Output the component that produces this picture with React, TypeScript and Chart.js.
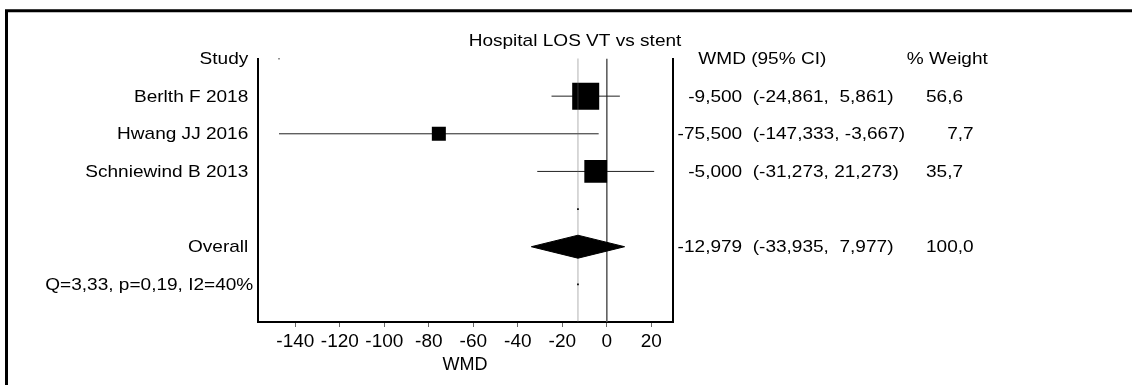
import { useEffect, useRef } from 'react';
import { Chart, registerables } from 'chart.js';

Chart.register(...registerables);

// Study-level results (weighted mean difference, 95% CI, % weight)
const STUDIES = ['Berlth F 2018', 'Hwang JJ 2016', 'Schniewind B 2013'];
const WMD = [-9.5, -75.5, -5.0];
const CI_LOW = [-24.861, -147.333, -31.273];
const CI_HIGH = [5.861, -3.667, 21.273];
const WEIGHTS = [56.6, 7.7, 35.7];

// Pooled estimate
const OVERALL_WMD = -12.979;
const OVERALL_LOW = -33.935;
const OVERALL_HIGH = 7.977;
const OVERALL_WEIGHT = 100.0;
const HETEROGENEITY = 'Q=3,33, p=0,19, I2=40%';

const TITLE = 'Hospital LOS VT vs stent';
const X_TITLE = 'WMD';
const X_TICKS = [-140, -120, -100, -80, -60, -40, -20, 0, 20];
const X_MIN = -157;
const X_MAX = 29.6;

// Row layout: 0 header, 1..n studies, n+1 gap, n+2 overall, n+3 heterogeneity
const N = STUDIES.length;
const ROW_OVERALL = N + 2;
const ROW_HET = N + 3;
const ROW_MAX = N + 4;

const FONT = '"Liberation Sans", Arial, Helvetica, sans-serif';
const TEXT_SIZE = 17;
const TEXT_STRETCH = 1.12;

const fmt3 = (v: number) => v.toFixed(3).replace('.', ',');
const fmt1 = (v: number) => v.toFixed(1).replace('.', ',');
const ciText = (lo: number, hi: number) =>
  `(${fmt3(lo)},${hi >= 0 && hi < 10 ? '  ' : ' '}${fmt3(hi)})`;
const weightText = (w: number) => (w < 10 ? '    ' : '') + fmt1(w);
// square side grows with the square root of the study weight
const squareRadius = (w: number) => (6.4 + 2.74 * Math.sqrt(w)) / Math.SQRT2;

function drawText(
  ctx: CanvasRenderingContext2D,
  s: string,
  x: number,
  y: number,
  align: CanvasTextAlign
) {
  ctx.save();
  ctx.translate(x, y);
  ctx.scale(TEXT_STRETCH, 1);
  ctx.font = `${TEXT_SIZE}px ${FONT}`;
  ctx.fillStyle = '#000';
  ctx.textAlign = align;
  ctx.textBaseline = 'middle';
  ctx.fillText(s, 0, 0);
  ctx.restore();
}

const forestText = {
  id: 'forestText',
  beforeDraw(chart: any) {
    const ctx = chart.ctx as CanvasRenderingContext2D;
    ctx.save();
    ctx.fillStyle = '#fff';
    ctx.fillRect(0, 0, chart.width, chart.height);
    ctx.strokeStyle = '#000';
    ctx.lineWidth = 3;
    ctx.beginPath();
    ctx.moveTo(6.5, chart.height);
    ctx.lineTo(6.5, 10.8);
    ctx.lineTo(chart.width, 10.8);
    ctx.stroke();
    ctx.restore();
  },
  afterDraw(chart: any) {
    const ctx = chart.ctx as CanvasRenderingContext2D;
    const y = chart.scales.y;
    const { left, right } = chart.chartArea;
    const rowY = (r: number) => y.getPixelForValue(r) + 1;
    const labelX = left - 9.2;
    const wmdX = right + 69.5;
    const ciX = right + 80;
    const wX = right + 253.3;

    drawText(ctx, TITLE, 575, 41, 'center');

    drawText(ctx, 'Study', labelX, rowY(0), 'right');
    drawText(ctx, 'WMD (95% CI)', right + 25.6, rowY(0), 'left');
    drawText(ctx, '% Weight', right + 234, rowY(0), 'left');

    STUDIES.forEach((name, i) => {
      const yy = rowY(i + 1);
      drawText(ctx, name, labelX, yy, 'right');
      drawText(ctx, fmt3(WMD[i]), wmdX, yy, 'right');
      drawText(ctx, ciText(CI_LOW[i], CI_HIGH[i]), ciX, yy, 'left');
      drawText(ctx, weightText(WEIGHTS[i]), wX, yy, 'left');
    });

    const yo = rowY(ROW_OVERALL);
    drawText(ctx, 'Overall', labelX, yo, 'right');
    drawText(ctx, fmt3(OVERALL_WMD), wmdX, yo, 'right');
    drawText(ctx, ciText(OVERALL_LOW, OVERALL_HIGH), ciX, yo, 'left');
    drawText(ctx, weightText(OVERALL_WEIGHT), wX, yo, 'left');

    drawText(ctx, HETEROGENEITY, left - 4.2, rowY(ROW_HET), 'right');
  },
};

export default function App() {
  const canvasRef = useRef<HTMLCanvasElement | null>(null);

  useEffect(() => {
    if (!canvasRef.current) return;

    const vline = (x: number) => [
      { x, y: 0 },
      { x, y: ROW_MAX },
    ];
    const diamondHalf = 0.305;

    const ciDatasets = STUDIES.map((_, i) => ({
      type: 'line' as const,
      data: [
        { x: CI_LOW[i], y: i + 1 },
        { x: CI_HIGH[i], y: i + 1 },
      ],
      borderColor: '#222',
      borderWidth: 1,
      pointRadius: 0,
      order: 8,
    }));

    const chart = new Chart(canvasRef.current, {
      type: 'scatter',
      data: {
        datasets: [
          {
            type: 'line',
            data: vline(0),
            borderColor: '#555',
            borderWidth: 1.5,
            pointRadius: 0,
            order: 10,
          },
          ...ciDatasets,
          {
            type: 'scatter',
            data: STUDIES.map((_, i) => ({ x: WMD[i], y: i + 1 })),
            pointStyle: 'rect',
            pointRadius: WEIGHTS.map(squareRadius),
            backgroundColor: '#000',
            borderColor: '#000',
            borderWidth: 0,
            order: 6,
          },
          {
            type: 'line',
            data: vline(OVERALL_WMD),
            borderColor: '#666',
            borderWidth: 1,
            borderDash: [1, 1],
            pointRadius: 0,
            order: 4,
          },
          {
            type: 'line',
            data: [
              { x: OVERALL_LOW, y: ROW_OVERALL },
              { x: OVERALL_WMD, y: ROW_OVERALL - diamondHalf },
              { x: OVERALL_HIGH, y: ROW_OVERALL },
              { x: OVERALL_WMD, y: ROW_OVERALL + diamondHalf },
              { x: OVERALL_LOW, y: ROW_OVERALL },
            ],
            borderColor: '#000',
            backgroundColor: '#000',
            borderWidth: 1,
            fill: 'shape',
            tension: 0,
            pointRadius: 0,
            order: 2,
          },
          {
            type: 'scatter',
            data: [
              { x: Math.min(...CI_LOW), y: 0 },
              { x: OVERALL_WMD, y: ROW_OVERALL - 1 },
              { x: OVERALL_WMD, y: ROW_HET },
            ],
            pointStyle: 'rect',
            pointRadius: 1.2,
            backgroundColor: '#000',
            borderWidth: 0,
            order: 1,
          },
        ],
      } as any,
      options: {
        animation: false,
        responsive: false,
        events: [],
        layout: { padding: { left: 257.5, right: 459.3, top: 58.5, bottom: 0 } },
        plugins: {
          legend: { display: false },
          title: { display: false },
          tooltip: { enabled: false },
        },
        scales: {
          x: {
            type: 'linear',
            position: 'bottom',
            min: X_MIN,
            max: X_MAX,
            afterBuildTicks: (s: any) => {
              s.ticks = X_TICKS.map((v) => ({ value: v }));
            },
            afterFit: (s: any) => {
              s.height = 63;
            },
            grid: {
              drawOnChartArea: false,
              drawTicks: true,
              tickLength: 5,
              color: '#666',
              lineWidth: 1,
            },
            border: { display: true, color: '#000', width: 2 },
            ticks: {
              color: '#000',
              font: { family: FONT, size: 19 },
              padding: 3,
              maxRotation: 0,
              autoSkip: false,
            },
            title: {
              display: true,
              text: X_TITLE,
              color: '#000',
              font: { family: FONT, size: 18 },
              padding: { top: 0, bottom: 9 },
            },
          },
          y: {
            type: 'linear',
            position: 'left',
            min: 0,
            max: ROW_MAX,
            reverse: true,
            afterFit: (s: any) => {
              s.width = 0;
            },
            grid: { display: false, drawTicks: false },
            border: { display: true, color: '#000', width: 2 },
            ticks: { display: false },
          },
          y2: {
            type: 'linear',
            position: 'right',
            min: 0,
            max: ROW_MAX,
            reverse: true,
            afterFit: (s: any) => {
              s.width = 0;
            },
            grid: { display: false, drawTicks: false },
            border: { display: true, color: '#000', width: 2 },
            ticks: { display: false },
          },
        },
      } as any,
      plugins: [forestText],
    });

    return () => chart.destroy();
  }, []);

  return (
    <div style={{ position: 'fixed', left: 0, top: 0, width: 1132, height: 385, background: '#fff' }}>
      <canvas ref={canvasRef} width={1132} height={385} style={{ display: 'block' }} />
    </div>
  );
}
